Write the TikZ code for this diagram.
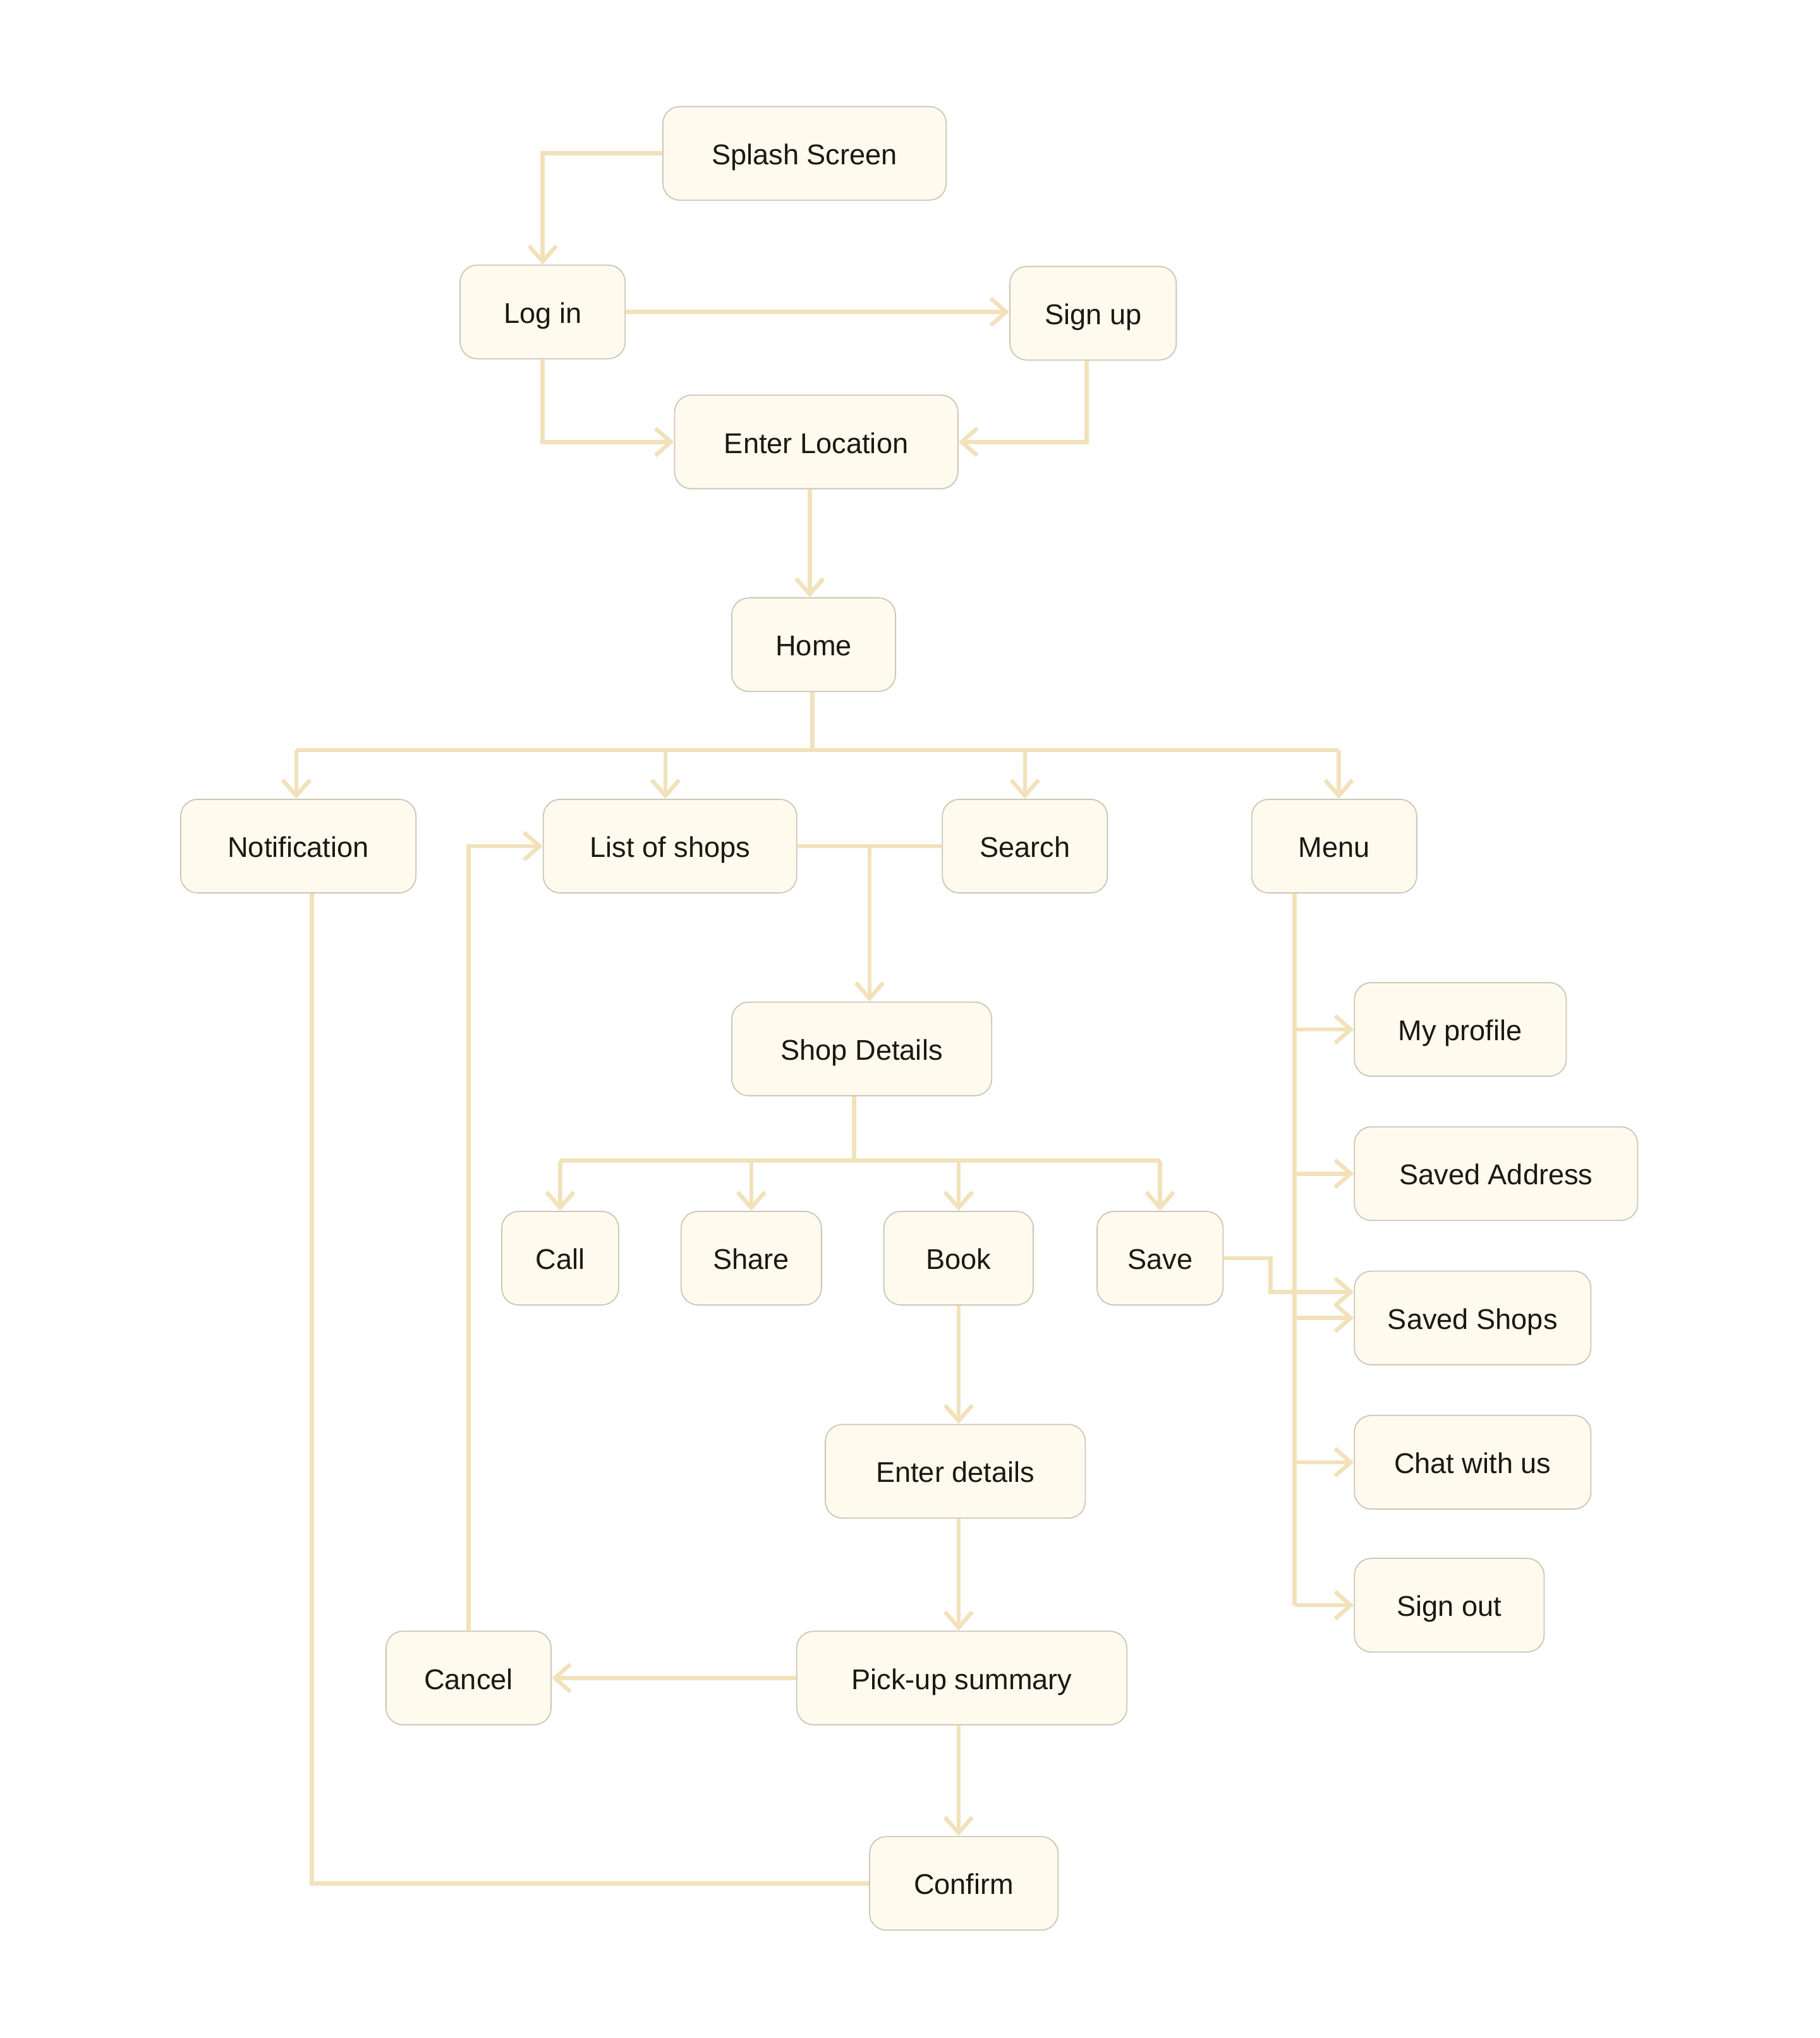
\documentclass[tikz,border=0pt]{standalone}
\usepackage{fontspec}
\setmainfont{Liberation Sans}
\usepackage{tikz}
\usetikzlibrary{shapes,arrows.meta,positioning,calc}
\definecolor{boxcol}{HTML}{FEFAEE}
\definecolor{edgecol}{HTML}{CBC7B8}
\definecolor{linkcol}{HTML}{F1E2BC}
\definecolor{txtcol}{HTML}{1B1A12}

\begin{document}
\begin{tikzpicture}[x=0.2mm, y=-0.2mm,
  screen/.style={draw=edgecol, line width=0.5pt, fill=boxcol, rounded corners=2.6mm,
    minimum height=14.4mm, text height=11pt, text depth=1.2pt, text=txtcol,
    font=\fontsize{12.5}{15}\selectfont},
  link/.style={draw=linkcol, line width=1.8pt},
  arr/.style={link, -{Straight Barb[length=2.4mm, width=4.2mm]}}
]
  \useasboundingbox (0,0) rectangle (1400,1568);

  % login flow
  \node[screen, minimum width=43.6mm] (splash) at (619,118) {Splash Screen};
  \node[screen, minimum width=25.4mm] (login) at (417.5,240) {Log in};
  \node[screen, minimum width=25.6mm] (signup) at (841,241) {Sign up};
  \node[screen, minimum width=43.6mm] (enterloc) at (628,340) {Enter Location};
  \node[screen, minimum width=25.2mm] (home) at (626,496) {Home};

  % home tabs
  \node[screen, minimum width=36.2mm] (notif) at (229.5,651) {Notification};
  \node[screen, minimum width=39mm] (list) at (515.5,651) {List of shops};
  \node[screen, minimum width=25.4mm] (search) at (788.5,651) {Search};
  \node[screen, minimum width=25.4mm] (menu) at (1026.5,651) {Menu};

  % shop
  \node[screen, minimum width=40mm] (shopdet) at (663,807) {Shop Details};
  \node[screen, minimum width=18mm] (call) at (431,968) {Call};
  \node[screen, minimum width=21.6mm] (share) at (578,968) {Share};
  \node[screen, minimum width=23mm] (book) at (737.5,968) {Book};
  \node[screen, minimum width=19.4mm] (save) at (892.5,968) {Save};
  \node[screen, minimum width=40mm] (entdet) at (735,1132) {Enter details};
  \node[screen, minimum width=50.8mm] (pickup) at (740,1291) {Pick-up summary};
  \node[screen, minimum width=25.4mm] (cancel) at (360.5,1291) {Cancel};
  \node[screen, minimum width=29mm] (confirm) at (741.5,1449) {Confirm};

  % menu items
  \node[screen, minimum width=32.6mm] (profile) at (1123.5,792) {My profile};
  \node[screen, minimum width=43.6mm] (saddr) at (1151,903) {Saved Address};
  \node[screen, minimum width=36.4mm] (sshops) at (1133,1014) {Saved Shops};
  \node[screen, minimum width=36.4mm] (chat) at (1133,1125) {Chat with us};
  \node[screen, minimum width=29.2mm] (signout) at (1115,1235) {Sign out};

  % connectors
  \draw[arr] (splash.west) -| (login.north);
  \draw[arr] (login.east) -- (login.east -| signup.west);
  \draw[arr] (login.south) |- (enterloc.west);
  \draw[arr] ([xshift=-1mm]signup.south) |- (enterloc.east);
  \draw[arr] ([xshift=-0.6mm]home.north |- enterloc.south) -- ([xshift=-0.6mm]home.north);

  \coordinate (homebus) at (625,577);
  \draw[link] ([xshift=-0.2mm]home.south) -- (homebus);
  \draw[link] ([xshift=-0.3mm]homebus -| notif.north) -- ([xshift=0.7mm]homebus -| menu.north);
  \foreach \n/\dx in {notif/-0.3mm, list/-0.7mm, search/0mm, menu/0.7mm}
    \draw[arr] ([xshift=\dx]homebus -| \n.north) -- ([xshift=\dx]\n.north);

  \draw[link] (list.east) -- (search.west);
  \coordinate (lsjoin) at (669,651);
  \draw[arr] (lsjoin) -- (lsjoin |- shopdet.north);

  \coordinate (sdbus) at (657,893);
  \draw[link] (sdbus |- shopdet.south) -- (sdbus);
  \draw[link] (sdbus -| call.north) -- (sdbus -| save.north);
  \foreach \n in {call, share, book, save}
    \draw[arr] (sdbus -| \n.north) -- (\n.north);

  \draw[arr] (book.south) -- (book.south |- entdet.north);
  \draw[arr] (book.south |- entdet.south) -- (book.south |- pickup.north);
  \draw[arr] (book.south |- pickup.south) -- (book.south |- confirm.north);
  \draw[arr] (pickup.west) -- (cancel.east);
  \draw[arr] (cancel.north) |- (list.west);
  \draw[link] (confirm.west) -| ([xshift=2.1mm]notif.south);

  \coordinate (mtop) at ([xshift=-6.1mm]menu.south);
  \draw[link] (mtop) -- (mtop |- signout.west);
  \foreach \n in {profile, saddr, sshops, chat, signout}
    \draw[arr] (mtop |- \n.west) -- (\n.west);
  \draw[arr] (save.east) -- ++(36,0) |- ([yshift=4mm]sshops.west);
\end{tikzpicture}
\end{document}
